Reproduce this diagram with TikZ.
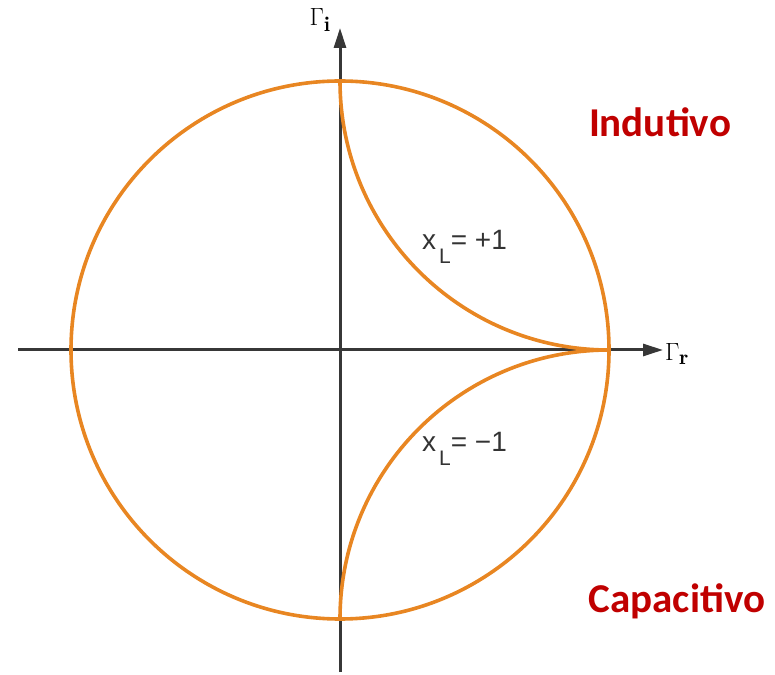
\documentclass[tikz,border=0pt]{standalone}
\usepackage{fontspec}
\usetikzlibrary{arrows.meta}
\newfontfamily\arialf{Liberation Sans}
\newfontfamily\calib{Carlito}
\definecolor{orng}{RGB}{232,134,34}
\definecolor{dred}{RGB}{192,0,0}
\definecolor{axisgray}{RGB}{55,55,55}
\tikzset{
  axisline/.style={draw=axisgray, line width=3pt, -{Triangle[length=20pt,width=12pt]}},
  curve/.style={draw=orng, line width=3.6pt},
  region/.style={text=dred, font=\calib\bfseries\fontsize{41}{41}\selectfont, anchor=base, inner sep=0pt},
  gam/.style={font=\fontsize{30}{30}\selectfont, inner sep=0pt},
  xlab/.style={font=\arialf\fontsize{28}{28}\selectfont, anchor=base west, inner sep=0pt, text=black!80}
}
\begin{document}
\begin{tikzpicture}[x=1pt,y=1pt]
\useasboundingbox (0,0) rectangle (775,674);
% key points
\coordinate (C) at (340,324);
\coordinate (T) at (340,593);
\coordinate (B) at (340,55);
\coordinate (P) at (609,324);
\coordinate (axL) at (18,324);
\coordinate (axR) at (663,324);
\coordinate (axD) at (340,2);
\coordinate (axU) at (340,646);
% axes
\draw[axisline] (axL) -- (axR);
\draw[axisline] (axD) -- (axU);
% unit circle
\draw[curve] (C) circle[radius=269pt];
% reactance arcs
\draw[curve] (T) arc[start angle=180, end angle=270, radius=269pt];
\draw[curve] (B) arc[start angle=180, end angle=90, radius=269pt];
% axis labels
\node[gam] (gi) at (320,654) {$\Gamma_{\mathbf{i}}$};
\node[gam] (gr) at (677,320) {$\Gamma_{\mathbf{r}}$};
% reactance labels
\node[xlab] (xp) at (422,424) {x\kern3pt\raisebox{-14pt}{\fontsize{21}{21}\selectfont L}= +1};
\node[xlab] (xm) at (422,222) {x\kern3pt\raisebox{-14pt}{\fontsize{21}{21}\selectfont L}= \textminus1};
% region labels
\node[region] (ind) at (660,537) {Indutivo};
\node[region] (cap) at (677,62) {Capacitivo};
\end{tikzpicture}
\end{document}
